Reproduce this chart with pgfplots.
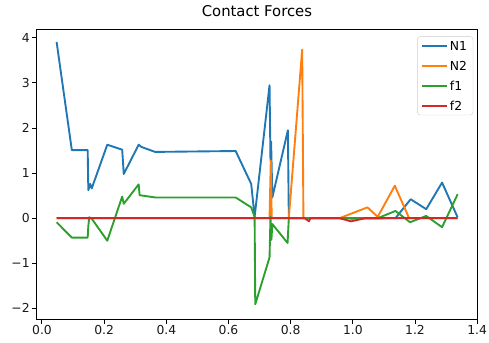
\documentclass[border=0pt]{standalone}
\usepackage{fontspec}
\setmainfont{DejaVu Sans}
\usepackage{pgfplots}
\pgfplotsset{compat=1.18}
\definecolor{c1}{HTML}{1F77B4}
\definecolor{c2}{HTML}{FF7F0E}
\definecolor{c3}{HTML}{2CA02C}
\definecolor{c4}{HTML}{D62728}
\begin{document}
\begin{tikzpicture}
\begin{axis}[
  scale only axis,
  width=444bp, height=291.7bp,
  xmin=-0.017, xmax=1.40,
  ymin=-2.24, ymax=4.18,
  xtick={0,0.2,0.4,0.6,0.8,1.0,1.2,1.4},
  xticklabels={0.0,0.2,0.4,0.6,0.8,1.0,1.2,1.4},
  ytick={-2,-1,0,1,2,3,4},
  yticklabels={−2,−1,0,1,2,3,4},
  tick pos=left,
  tick align=outside,
  major tick length=4.4bp,
  every tick/.style={black, line width=1bp},
  axis line style={line width=1bp, black},
  tick label style={font=\fontsize{12.5}{15}\selectfont, text=black!90},
  xticklabel style={inner sep=2bp},
  yticklabel style={inner sep=2.5bp},
  title={Contact Forces},
  title style={font=\fontsize{15}{18}\selectfont, at={(0.5,1)}, anchor=base, yshift=7bp},
  legend style={at={(0.991,0.977)}, anchor=north east, draw=black!20, rounded corners=3bp,
    fill=white, fill opacity=0.8, text opacity=1, font=\fontsize{12.5}{15}\selectfont,
    row sep=7bp, inner xsep=4bp, inner ysep=3bp,
    nodes={inner sep=2bp, text height=9bp, text depth=0bp}},
  legend cell align=left,
  legend image code/.code={\draw[#1] (0bp,0bp) -- (25bp,0bp);},
  every axis plot/.append style={line width=1.9bp, line join=round},
]
\addplot[c1] coordinates {
(0.047,3.91) (0.096,1.51) (0.147,1.51) (0.149,0.62) (0.155,0.76) (0.160,0.66)
(0.210,1.63) (0.258,1.52) (0.263,0.98) (0.311,1.63) (0.320,1.58) (0.364,1.47)
(0.623,1.49) (0.673,0.76) (0.684,0.03) (0.732,2.95) (0.735,1.28) (0.737,1.70)
(0.741,0.46) (0.791,1.95) (0.794,0.0) (0.84,0.0) (0.95,0.0) (1.0,-0.01)
(1.137,0.0) (1.186,0.42) (1.236,0.20) (1.287,0.79) (1.337,0.02)
};
\addlegendentry{N1}
\addplot[c2] coordinates {
(0.047,0) (0.732,0) (0.736,1.28) (0.739,0) (0.794,0) (0.837,3.74) (0.841,0)
(0.957,0) (1.047,0.24) (1.080,0.03) (1.135,0.72) (1.181,0) (1.337,0)
};
\addlegendentry{N2}
\addplot[c3] coordinates {
(0.047,-0.09) (0.096,-0.43) (0.147,-0.43) (0.149,-0.18) (0.152,0.02) (0.160,-0.01)
(0.210,-0.50) (0.258,0.48) (0.263,0.32) (0.311,0.75) (0.314,0.51) (0.364,0.46)
(0.623,0.46) (0.673,0.24) (0.684,0.03) (0.686,-1.91) (0.732,-0.87) (0.735,0.03)
(0.738,-0.48) (0.741,-0.13) (0.790,-0.55) (0.794,0.0) (0.84,0) (1.08,0.0)
(1.137,0.16) (1.184,-0.09) (1.236,0.05) (1.287,-0.20) (1.337,0.53)
};
\addlegendentry{f1}
\addplot[c4] coordinates {
(0.047,0) (0.845,0) (0.859,-0.07) (0.863,0) (0.957,0) (0.994,-0.07) (1.04,0) (1.337,0)
};
\addlegendentry{f2}
\end{axis}
\path ([shift={(-37bp,-23.3bp)}]current axis.south west) rectangle ([shift={(8bp,30bp)}]current axis.north east);
\end{tikzpicture}
\end{document}
